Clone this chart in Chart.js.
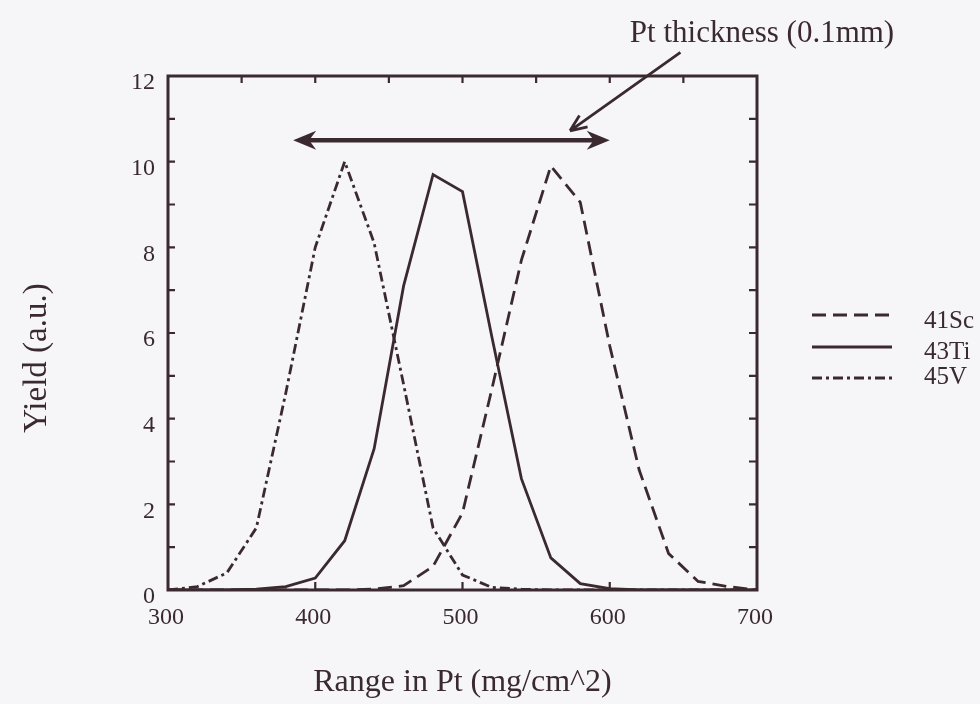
<!DOCTYPE html>
<html>
<head>
<meta charset="utf-8">
<script src="https://cdn.jsdelivr.net/npm/chart.js@4.4.0/dist/chart.umd.min.js"></script>
<style>
  html, body { margin:0; padding:0; background:#f6f5f7; }
  #wrap { width:980px; height:704px; position:relative; }
</style>
</head>
<body>
<div id="wrap"><canvas id="chart"></canvas></div>
<script>
// range in Pt (mg/cm^2)
const rangeX = [300,320,340,360,380,400,420,440,460,480,500,520,540,560,580,600,620,640,660,680,700];

// yields (a.u.)
const sc41 = [0,0,0,0,0,0,0,0.02,0.1,0.55,1.8,4.7,7.7,9.9,9.05,5.7,2.8,0.85,0.2,0.08,0];
const ti43 = [0,0,0,0.02,0.08,0.28,1.15,3.3,7.1,9.7,9.3,5.9,2.6,0.75,0.15,0.03,0,0,0,0,0];
const v45  = [0,0.08,0.4,1.45,4.6,8.0,10.0,8.1,4.8,1.45,0.35,0.06,0.02,0,0,0,0,0,0,0,0];

const seriesNames = ["41Sc","43Ti","45V"];

// axis ticks
const yMinorTicks = [1,2,3,4,5,6,7,8,9,10,11];
const topTicks = [350,400,450,500,550,600,650];
const bottomTicks = [400,500,600];

// annotations (data units)
const thicknessArrowX = [385, 600];
const thicknessArrowY = 10.5;
const pointerFrom = [648, 12.55];
const pointerTo = [573, 10.72];

const INK = "#3a2a30";
const FONT = "'Liberation Serif', 'Times New Roman', serif";

function pts(ys){
  return rangeX.map((x, i) => ({ x: x, y: ys[i] }));
}

/* ================= DECORATIONS ================= */

const decor = {
  id: "decor",
  afterDatasetsDraw(chart){
    const {ctx, chartArea: a, scales: {x, y}} = chart;
    ctx.save();
    ctx.strokeStyle = INK;
    ctx.fillStyle = INK;
    ctx.lineCap = "butt";

    // frame
    ctx.lineWidth = 3;
    ctx.strokeRect(a.left, a.top, a.right - a.left, a.bottom - a.top);

    // inner ticks
    ctx.lineWidth = 2.2;
    ctx.beginPath();
    yMinorTicks.forEach(v => {
      const py = y.getPixelForValue(v);
      ctx.moveTo(a.left, py); ctx.lineTo(a.left + 7, py);
      ctx.moveTo(a.right, py); ctx.lineTo(a.right - 8, py);
    });
    topTicks.forEach(v => {
      const px = x.getPixelForValue(v);
      ctx.moveTo(px, a.top); ctx.lineTo(px, a.top + 7);
    });
    bottomTicks.forEach(v => {
      const px = x.getPixelForValue(v);
      ctx.moveTo(px, a.bottom); ctx.lineTo(px, a.bottom - 8);
    });
    ctx.stroke();

    // double arrow (Pt thickness)
    const ay = y.getPixelForValue(thicknessArrowY);
    const ax0 = x.getPixelForValue(thicknessArrowX[0]);
    const ax1 = x.getPixelForValue(thicknessArrowX[1]);
    ctx.lineWidth = 4.5;
    ctx.beginPath();
    ctx.moveTo(ax0 + 14, ay); ctx.lineTo(ax1 - 14, ay);
    ctx.stroke();
    [[ax0, 1], [ax1, -1]].forEach(([tx, d]) => {
      ctx.beginPath();
      ctx.moveTo(tx, ay);
      ctx.lineTo(tx + d * 23, ay - 9.5);
      ctx.lineTo(tx + d * 16, ay);
      ctx.lineTo(tx + d * 23, ay + 9.5);
      ctx.closePath();
      ctx.fill();
    });

    // pointer arrow
    const p0x = x.getPixelForValue(pointerFrom[0]), p0y = y.getPixelForValue(pointerFrom[1]);
    const p1x = x.getPixelForValue(pointerTo[0]), p1y = y.getPixelForValue(pointerTo[1]);
    ctx.lineWidth = 2.8;
    ctx.beginPath();
    ctx.moveTo(p0x, p0y); ctx.lineTo(p1x, p1y);
    const ang = Math.atan2(p0y - p1y, p0x - p1x);
    [0.4, -0.4].forEach(da => {
      ctx.moveTo(p1x, p1y);
      ctx.lineTo(p1x + 18 * Math.cos(ang + da), p1y + 18 * Math.sin(ang + da));
    });
    ctx.stroke();

    // texts
    ctx.font = "31px " + FONT;
    ctx.textAlign = "center";
    ctx.textBaseline = "alphabetic";
    ctx.fillText("Pt thickness (0.1mm)", 762, 42);

    ctx.save();
    ctx.translate(37, 358);
    ctx.rotate(-Math.PI / 2);
    ctx.font = "33px " + FONT;
    ctx.textBaseline = "middle";
    ctx.fillText("Yield (a.u.)", 0, 0);
    ctx.restore();

    // legend
    const rowsLine = [315, 347, 378];
    const rowsText = [321, 352, 377];
    ctx.font = "25px " + FONT;
    ctx.textAlign = "left";
    ctx.textBaseline = "middle";
    chart.data.datasets.forEach((ds, i) => {
      ctx.lineWidth = 2.8;
      ctx.setLineDash(ds.borderDash || []);
      ctx.beginPath();
      ctx.moveTo(812, rowsLine[i]); ctx.lineTo(892, rowsLine[i]);
      ctx.stroke();
      ctx.setLineDash([]);
      ctx.fillText(ds.label, 924, rowsText[i]);
    });

    ctx.restore();
  }
};

/* ================= CHART ================= */

const lineStyle = { borderColor: INK, borderWidth: 2.8, pointRadius: 0, tension: 0, fill: false };

new Chart(document.getElementById("chart"), {
  type: "line",
  data: {
    datasets: [
      Object.assign({ label: seriesNames[0], data: pts(sc41), borderDash: [14, 7] }, lineStyle),
      Object.assign({ label: seriesNames[1], data: pts(ti43), borderDash: [] }, lineStyle),
      Object.assign({ label: seriesNames[2], data: pts(v45), borderDash: [10, 4, 3, 4] }, lineStyle)
    ]
  },
  options: {
    responsive: true,
    maintainAspectRatio: false,
    animation: false,
    layout: { padding: { top: 76, right: 223, left: 0, bottom: 0 } },
    plugins: { legend: { display: false }, tooltip: { enabled: false } },
    scales: {
      x: {
        type: "linear",
        min: 300, max: 700,
        afterFit: s => { s.height = 114; },
        grid: { display: false, drawTicks: false },
        border: { display: false },
        ticks: { stepSize: 100, color: INK, padding: 13, labelOffset: -2, font: { family: FONT, size: 24 } },
        title: { display: true, text: "Range in Pt (mg/cm^2)", color: INK, font: { family: FONT, size: 32 }, padding: { top: 0, bottom: 2 } }
      },
      y: {
        min: 0, max: 12,
        afterFit: s => { s.width = 168; },
        grid: { display: false, drawTicks: false },
        border: { display: false },
        ticks: { stepSize: 2, color: INK, padding: 13, labelOffset: 7, font: { family: FONT, size: 24 } }
      }
    }
  },
  plugins: [decor]
});
</script>
</body>
</html>
